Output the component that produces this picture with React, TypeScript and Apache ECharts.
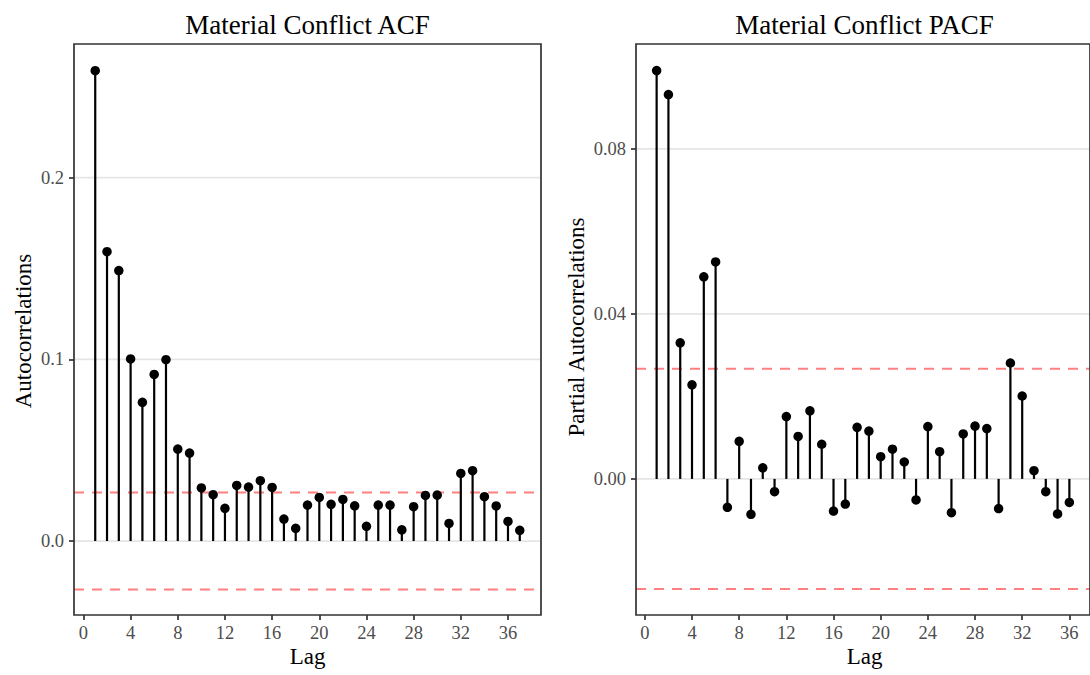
import React, { useEffect, useRef } from "react";
import * as echarts from "echarts";

const acfLags = [1,2,3,4,5,6,7,8,9,10,11,12,13,14,15,16,17,18,19,20,21,22,23,24,25,26,27,28,29,30,31,32,33,34,35,36,37];
const acfValues = [0.2588,0.1592,0.1488,0.1002,0.0763,0.0917,0.0998,0.0506,0.0484,0.0292,0.0255,0.0180,0.0306,0.0297,0.0332,0.0295,0.0121,0.0070,0.0198,0.0240,0.0202,0.0229,0.0194,0.0081,0.0198,0.0198,0.0062,0.0189,0.0251,0.0253,0.0097,0.0372,0.0387,0.0244,0.0193,0.0108,0.0059];

const pacfLags = [1,2,3,4,5,6,7,8,9,10,11,12,13,14,15,16,17,18,19,20,21,22,23,24,25,26,27,28,29,30,31,32,33,34,35,36];
const pacfValues = [0.0990,0.0932,0.0330,0.0228,0.0490,0.0526,-0.0069,0.0091,-0.0086,0.0027,-0.0031,0.0151,0.0103,0.0165,0.0084,-0.0078,-0.0061,0.0125,0.0116,0.0054,0.0072,0.0041,-0.0051,0.0127,0.0066,-0.0082,0.0109,0.0128,0.0122,-0.0072,0.0281,0.0201,0.0020,-0.0031,-0.0085,-0.0057];

const confBound = 0.0267;
const xTicks = [0,4,8,12,16,20,24,28,32,36];
const acfYTicks = [0, 0.1, 0.2];
const pacfYTicks = [0, 0.04, 0.08];

const titles = ["Material Conflict ACF", "Material Conflict PACF"];
const yTitles = ["Autocorrelations", "Partial Autocorrelations"];
const xTitle = "Lag";

const FONT = "'Liberation Serif', 'Times New Roman', serif";

export default function App() {
  const ref = useRef<HTMLDivElement>(null);
  useEffect(() => {
    if (!ref.current) return;
    const chart = echarts.init(ref.current, null, { renderer: "svg" });

    const panels = [
      { left: 74, width: 467, xMin: -0.8, xMax: 38.8, yMin: -0.0407, yMax: 0.2735, yTicks: acfYTicks, dec: 1, lags: acfLags, vals: acfValues },
      { left: 636, width: 457, xMin: -0.75, xMax: 37.75, yMin: -0.033, yMax: 0.10545, yTicks: pacfYTicks, dec: 2, lags: pacfLags, vals: pacfValues },
    ];
    const top = 44, height = 571;

    const grids: any[] = [];
    const xAxes: any[] = [];
    const yAxes: any[] = [];
    const series: any[] = [];

    const hLine = (color: string, width: number, dash: any) => (params: any, api: any) => {
      const cs = params.coordSys;
      const y = api.coord([0, api.value(1)])[1];
      return {
        type: "line",
        shape: { x1: cs.x, y1: y, x2: cs.x + cs.width, y2: y },
        style: { stroke: color, lineWidth: width, lineDash: dash },
      };
    };

    panels.forEach((p, i) => {
      grids.push({ left: p.left, top, width: p.width, height, show: true, borderColor: "#333333", borderWidth: 1.7, backgroundColor: "transparent", z: 10 });
      xAxes.push({
        type: "value", gridIndex: i, min: p.xMin, max: p.xMax, position: "bottom",
        axisLine: { show: false, onZero: false },
        axisTick: { show: true, length: 5, lineStyle: { color: "#333333", width: 1.7 }, customValues: xTicks },
        axisLabel: { show: true, margin: 8, fontFamily: FONT, fontSize: 18.5, color: "#4D4D4D", customValues: xTicks, formatter: (v: number) => String(v) },
        splitLine: { show: false },
      });
      yAxes.push({
        type: "value", gridIndex: i, min: p.yMin, max: p.yMax,
        axisLine: { show: false, onZero: false },
        axisTick: { show: true, length: 5, lineStyle: { color: "#333333", width: 1.7 }, customValues: p.yTicks },
        axisLabel: { show: true, margin: 10, fontFamily: FONT, fontSize: 18.5, color: "#4D4D4D", customValues: p.yTicks, formatter: (v: number) => v.toFixed(p.dec) },
        splitLine: { show: false },
      });
      series.push({
        type: "custom", xAxisIndex: i, yAxisIndex: i, z: 1, silent: true,
        data: p.yTicks.map((v) => [0, v]),
        renderItem: hLine("#E5E5E5", 1.7, null),
      });
      series.push({
        type: "custom", xAxisIndex: i, yAxisIndex: i, z: 2, silent: true,
        data: [[0, confBound], [0, -confBound]],
        renderItem: hLine("#FF8080", 2, [10, 8]),
      });
      const pts = p.lags.map((l, k) => [l, p.vals[k]]);
      series.push({
        type: "custom", xAxisIndex: i, yAxisIndex: i, z: 3, silent: true,
        data: pts,
        renderItem: (params: any, api: any) => {
          const a = api.coord([api.value(0), 0]);
          const b = api.coord([api.value(0), api.value(1)]);
          return { type: "line", shape: { x1: a[0], y1: a[1], x2: b[0], y2: b[1] }, style: { stroke: "#000000", lineWidth: 2.2 } };
        },
      });
      series.push({
        type: "scatter", xAxisIndex: i, yAxisIndex: i, z: 4, silent: true,
        data: pts, symbol: "circle", symbolSize: 9.5, itemStyle: { color: "#000000", opacity: 1 },
      });
    });

    const graphic: any[] = [];
    panels.forEach((p, i) => {
      const cx = p.left + p.width / 2;
      graphic.push({ type: "text", x: cx, y: 25, style: { text: titles[i], font: `27px ${FONT}`, fill: "#000000", textAlign: "center", textVerticalAlign: "middle" } });
      graphic.push({ type: "text", x: cx, y: 656, style: { text: xTitle, font: `23px ${FONT}`, fill: "#000000", textAlign: "center", textVerticalAlign: "middle" } });
    });
    graphic.push({ type: "text", x: 23, y: 331, rotation: Math.PI / 2, style: { text: yTitles[0], font: `23px ${FONT}`, fill: "#000000", textAlign: "center", textVerticalAlign: "middle" } });
    graphic.push({ type: "text", x: 576, y: 327, rotation: Math.PI / 2, style: { text: yTitles[1], font: `23px ${FONT}`, fill: "#000000", textAlign: "center", textVerticalAlign: "middle" } });

    chart.setOption({
      animation: false,
      backgroundColor: "#FFFFFF",
      grid: grids,
      xAxis: xAxes,
      yAxis: yAxes,
      series,
      graphic,
    });
    return () => chart.dispose();
  }, []);
  return <div ref={ref} style={{ position: "absolute", left: 0, top: 0, width: 1090, height: 675 }} />;
}
